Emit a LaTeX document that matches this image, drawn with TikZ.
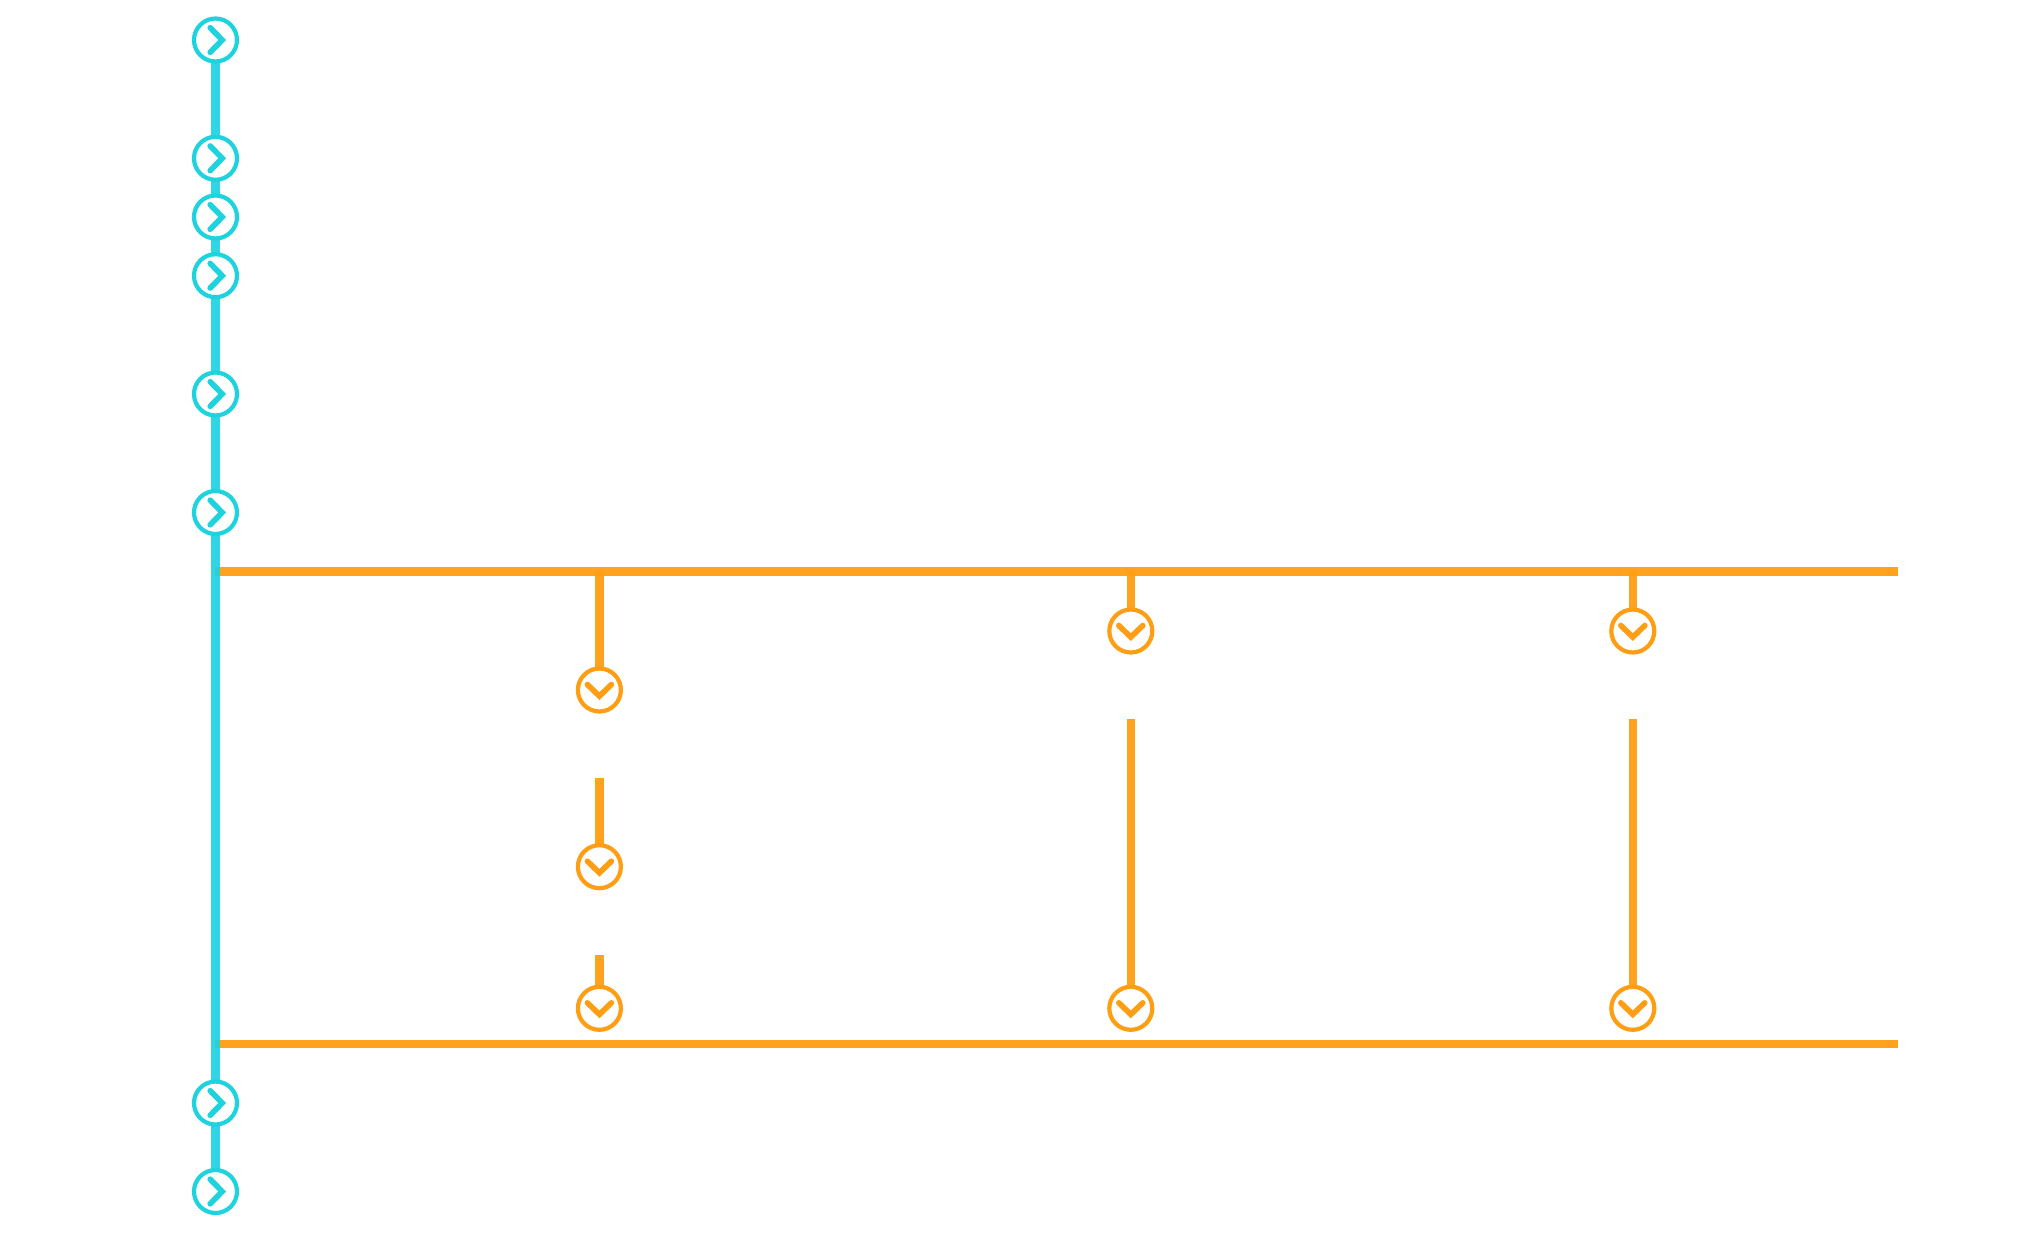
\documentclass[tikz,border=0pt]{standalone}
\definecolor{tealc}{HTML}{1ED2DE}
\definecolor{orangec}{HTML}{FF9E12}
\tikzset{
  x=0.5pt,y=-0.5pt,
  tealnode/.style={circle,draw=tealc,line width=2.1pt,fill=white,minimum size=21.5pt,inner sep=0pt,outer sep=0pt},
  orangenode/.style={circle,draw=orangec,line width=2.1pt,fill=white,minimum size=21.5pt,inner sep=0pt,outer sep=0pt},
  tealline/.style={draw=tealc,line width=4.3pt,draw opacity=.92},
  orangeline/.style={draw=orangec,line width=4.3pt,draw opacity=.95},
  chev/.style={line width=2.8pt,line cap=round,line join=miter}
}
\begin{document}
\begin{tikzpicture}
\useasboundingbox (0,0) rectangle (2034,1232);
% nodes
\foreach \n/\yy in {t1/40,t2/158.3,t3/217,t4/275.7,t5/394,t6/512.5,t7/1103,t8/1191.5}
  \node[tealnode] (\n) at (215.5,\yy) {};
\foreach \n/\xx/\yy in {a1/599.4/690,a2/599.4/866.7,a3/599.4/1008.3,b1/1130.8/631,b2/1130.8/1008.3,c1/1632.8/631,c2/1632.8/1008.3}
  \node[orangenode] (\n) at (\xx,\yy) {};
% free ends
\coordinate (hAl) at (215,571.7);
\coordinate (hAr) at (1898,571.7);
\coordinate (hBl) at (215,1044);
\coordinate (hBr) at (1898,1044);
\coordinate (ja) at (599.4,571);
\coordinate (jb) at (1130.8,571);
\coordinate (jc) at (1632.8,571);
\coordinate (sa2) at (599.4,778);
\coordinate (sa3) at (599.4,955);
\coordinate (sb) at (1130.8,719);
\coordinate (sc) at (1632.8,719);
% orange connectors
\draw[orangeline] (hAl) -- (hAr);
\draw[orangeline] (hBl) -- (hBr);
\draw[orangeline] (ja) -- (a1);
\draw[orangeline] (jb) -- (b1);
\draw[orangeline] (jc) -- (c1);
\draw[orangeline] (sa2) -- (a2);
\draw[orangeline] (sa3) -- (a3);
\draw[orangeline] (sb) -- (b2);
\draw[orangeline] (sc) -- (c2);
% teal connectors
\draw[tealline] (t1) -- (t2);
\draw[tealline] (t2) -- (t3);
\draw[tealline] (t3) -- (t4);
\draw[tealline] (t4) -- (t5);
\draw[tealline] (t5) -- (t6);
\draw[tealline] (t6) -- (t7);
\draw[tealline] (t7) -- (t8);
% chevrons
\foreach \n in {t1,t2,t3,t4,t5,t6,t7,t8}
  \draw[chev,tealc] (\n.center) ++(-5.3,-12.3) -- ++(12,12.3) -- ++(-12,12.3);
\foreach \n in {a1,a2,a3,b1,b2,c1,c2}
  \draw[chev,orangec] (\n.center) ++(-12,-5.5) -- ++(12,11.6) -- ++(12,-11.6);
\end{tikzpicture}
\end{document}
